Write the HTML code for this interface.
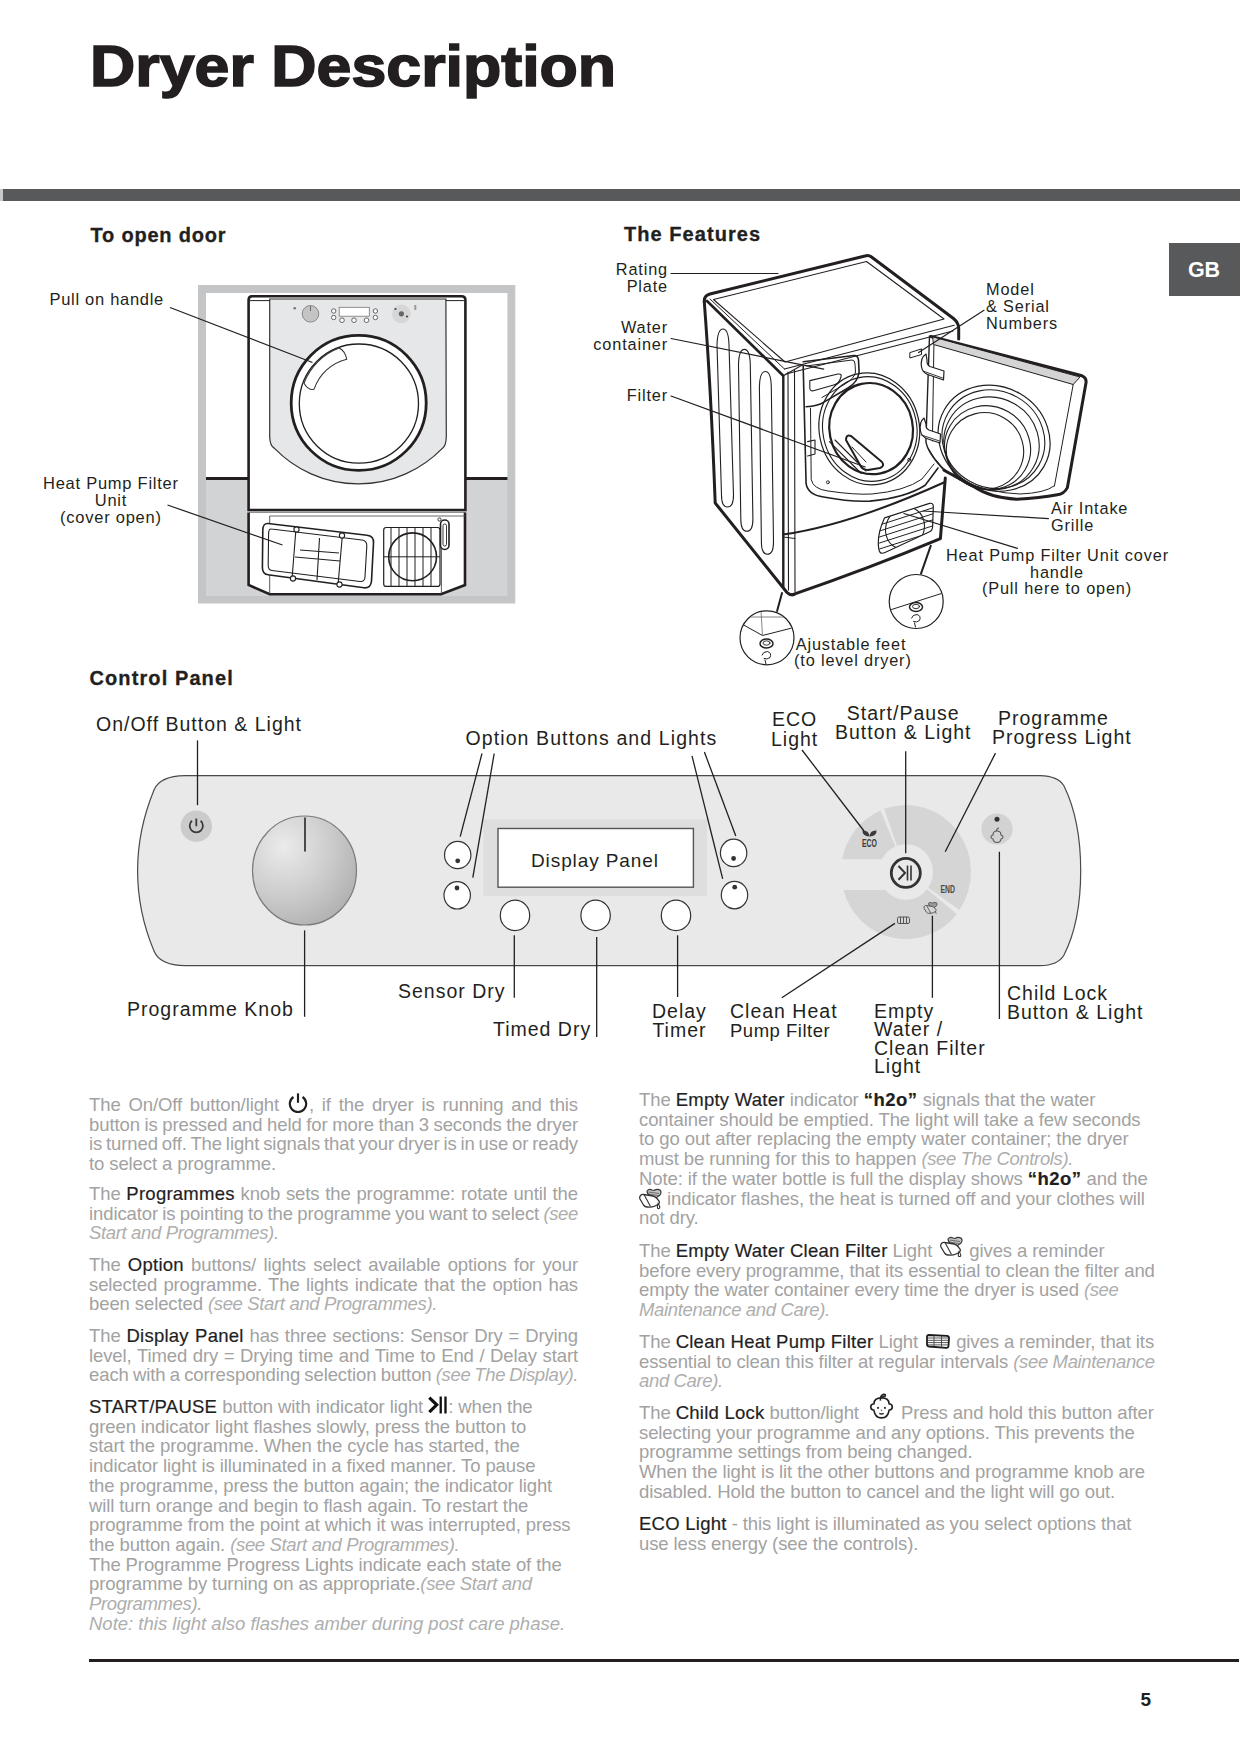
<!DOCTYPE html>
<html><head><meta charset="utf-8">
<style>
html,body{margin:0;padding:0;background:#fff;}
body{width:1240px;height:1754px;position:relative;overflow:hidden;font-family:"Liberation Sans",sans-serif;color:#222;}
.a{position:absolute;white-space:nowrap;}
#title{left:90.3px;top:30px;font-size:57px;font-weight:700;line-height:72px;color:#231f20;letter-spacing:0px;-webkit-text-stroke:1.6px #231f20;transform:scaleX(1.1);transform-origin:0 0;}
#bar{left:3px;top:189px;width:1237px;height:12px;background:#58595b;}
#bar0{left:0;top:189px;width:3px;height:12px;background:#c8c8c8;}
#gb{left:1169px;top:243px;width:71px;height:53px;background:#58595b;color:#fff;font-weight:700;font-size:21.5px;line-height:55px;text-indent:19px;letter-spacing:-0.3px;}
.h{font-weight:700;font-size:20px;line-height:24px;letter-spacing:0.8px;color:#231f20;}
.lb{font-size:16.3px;line-height:16.5px;letter-spacing:0.85px;color:#231f20;}
.cl{font-size:19.5px;line-height:19px;letter-spacing:1.0px;color:#231f20;}
.p{position:absolute;font-size:18.5px;line-height:19.7px;color:#a2a2a2;letter-spacing:-0.1px;}
.p div{white-space:nowrap;}
.p b{font-weight:400;color:#1f1f1f;-webkit-text-stroke:0.2px #1f1f1f;letter-spacing:0.25px;}
.p i{color:#aeaeae;letter-spacing:-0.35px;}
.ic{display:inline-block;position:relative;height:0;}
.ic svg{position:absolute;left:0;}
.j{text-align:justify;text-align-last:justify;word-spacing:-1.6px;}
#rule{left:89px;top:1659px;width:1150px;height:3px;background:#231f20;}
#pn{left:1140.5px;top:1688px;font-size:19px;font-weight:700;line-height:24px;color:#231f20;}
</style></head>
<body>
<div id="title" class="a">Dryer Description</div>
<div id="bar0" class="a"></div>
<div id="bar" class="a"></div>
<div id="gb" class="a">GB</div>

<div class="a h" style="left:90.5px;top:222.5px;-webkit-text-stroke:0.3px #231f20;">To open door</div>
<div class="a h" style="left:624px;top:221.5px;letter-spacing:1.05px;-webkit-text-stroke:0.3px #231f20;">The Features</div>
<div class="a h" style="left:89.5px;top:666px;letter-spacing:1.1px;-webkit-text-stroke:0.3px #231f20;">Control Panel</div>


<svg class="a" style="left:0;top:0" width="1240" height="1754" viewBox="0 0 1240 1754">
<defs>
<radialGradient id="knobg" cx="0.3" cy="0.28" r="0.85">
<stop offset="0" stop-color="#ebebeb"/><stop offset="0.55" stop-color="#cbcbcb"/><stop offset="1" stop-color="#adadad"/>
</radialGradient>
</defs>

<!-- LEFT ILLUSTRATION -->
<g id="li">
<rect x="198" y="285" width="317.3" height="318.5" fill="#c4c5c7"/>
<rect x="206" y="293" width="301.4" height="184.7" fill="#fff"/>
<rect x="206" y="477.7" width="301.4" height="118.3" fill="#d2d3d5"/>
<line x1="206" y1="478.5" x2="507.4" y2="478.5" stroke="#231f20" stroke-width="2.8"/>
<!-- dryer body -->
<path d="M252,296.2 L461.5,296.2 Q465.4,296.2 465.4,300 L465.4,510 L248.6,510 L248.6,300 Q248.6,296.2 252,296.2 Z" fill="#fff" stroke="#231f20" stroke-width="2.6"/>
<!-- front panel -->
<path d="M269.7,299 L445.9,299 L446.3,437 Q446,446 442.3,448.4 A116.9,116.9 0 0 1 274.5,448.4 Q270,446 269.7,437 Z" fill="#e6e7e9" stroke="#333" stroke-width="1.2"/>
<line x1="250" y1="300.6" x2="269.7" y2="300.6" stroke="#222" stroke-width="1"/>
<line x1="446" y1="300.6" x2="464" y2="300.6" stroke="#222" stroke-width="1"/>
<!-- controls -->
<circle cx="294.7" cy="308.2" r="1.3" fill="#777"/>
<circle cx="310.5" cy="313.8" r="8.3" fill="#c4c4c4" stroke="#777" stroke-width="0.8"/>
<line x1="310.5" y1="306" x2="310.5" y2="311" stroke="#555" stroke-width="0.8"/>
<rect x="339.2" y="307.3" width="30.1" height="8.9" fill="#fff" stroke="#777" stroke-width="0.8"/>
<g fill="#fff" stroke="#444" stroke-width="0.8">
<circle cx="333.7" cy="311" r="2.2"/><circle cx="333.7" cy="317.5" r="2.2"/>
<circle cx="375.4" cy="311" r="2.2"/><circle cx="375.4" cy="317.5" r="2.2"/>
<circle cx="342" cy="320.2" r="2.3"/><circle cx="354" cy="320.2" r="2.3"/><circle cx="366.5" cy="320.2" r="2.3"/>
</g>
<circle cx="401.4" cy="313.8" r="9.3" fill="#d6d6d6"/>
<circle cx="401.4" cy="313.8" r="2.6" fill="#666"/>
<circle cx="395.5" cy="309" r="1.1" fill="#444"/><circle cx="407" cy="316.5" r="1.1" fill="#444"/>
<rect x="414.3" y="305" width="2" height="5" fill="#999"/>
<!-- door -->
<circle cx="358.7" cy="402.9" r="67.5" fill="#fff" stroke="#231f20" stroke-width="2.8"/>
<circle cx="358.9" cy="403.6" r="59.6" fill="#fff" stroke="#231f20" stroke-width="1.3"/>
<path d="M339.2,348.1 Q345,351 346.7,359.2 A46,46 0 0 0 314.2,388.9 Q309,391.5 304,383.3 A59.6,59.6 0 0 1 339.2,348.1 Z" fill="#fff" stroke="#333" stroke-width="1.1"/>
<!-- plinth -->
<line x1="249" y1="512.5" x2="465" y2="512.5" stroke="#231f20" stroke-width="1"/>
<path d="M248.6,512.5 L248.6,585 L269.7,594.3 L441,594.3 L465,585 L465,512.5" fill="#fff" stroke="#231f20" stroke-width="2.6"/>
<line x1="269.7" y1="516" x2="269.7" y2="594" stroke="#444" stroke-width="0.9"/>
<line x1="441.4" y1="540" x2="441.4" y2="594" stroke="#444" stroke-width="0.9"/>
<line x1="269.7" y1="516" x2="465" y2="516" stroke="#444" stroke-width="0.8"/>
<!-- filter unit -->
<path d="M268,523.5 L367,535.3 Q374,536 373.5,543 L371.5,581 Q371,588.3 364,587.8 L268,574.7 Q262.2,574 262.4,567 L262.8,530 Q263,523 268,523.5 Z" fill="#fff" stroke="#231f20" stroke-width="1.6"/>
<path d="M271.5,529 L362,540 Q367,540.8 366.8,546 L365,577 Q364.7,582 360,581.5 L272,570.5 Q268,570 268.2,565 L268.6,533 Q268.8,528.5 271.5,529 Z" fill="#fff" stroke="#231f20" stroke-width="1.1"/>
<path d="M296.2,526 L292,579 M342.5,534 L338,585 M319.5,538 L317,580 M295,557 L340,561 M300,550 L339,553" fill="none" stroke="#231f20" stroke-width="1.1"/>
<g fill="#fff" stroke="#231f20" stroke-width="1.1">
<circle cx="296.5" cy="529.5" r="2.6"/><circle cx="342" cy="535.5" r="2.6"/>
<circle cx="293" cy="578.5" r="2.6"/><circle cx="339.5" cy="584.5" r="2.6"/>
</g>
<!-- grille -->
<rect x="383.7" y="527.5" width="56.3" height="58.9" rx="2.5" fill="#fff" stroke="#231f20" stroke-width="1.2"/>
<g stroke="#231f20" stroke-width="1">
<line x1="391" y1="528" x2="391" y2="586"/><line x1="399" y1="528" x2="399" y2="586"/><line x1="407" y1="528" x2="407" y2="586"/>
<line x1="415" y1="528" x2="415" y2="586"/><line x1="423" y1="528" x2="423" y2="586"/><line x1="431" y1="528" x2="431" y2="586"/>
<line x1="384" y1="556.8" x2="440" y2="556.8"/>
</g>
<circle cx="412.6" cy="556.8" r="23.9" fill="none" stroke="#231f20" stroke-width="1.6"/>
<rect x="440.5" y="520" width="8.5" height="29.5" rx="4.2" fill="#fff" stroke="#231f20" stroke-width="1.6"/>
<rect x="443" y="524" width="3.5" height="22" rx="1.7" fill="none" stroke="#231f20" stroke-width="0.9"/>
<circle cx="439.5" cy="519.5" r="1.6" fill="none" stroke="#231f20" stroke-width="0.9"/>
<!-- leaders -->
<line x1="170" y1="307.5" x2="312.5" y2="362.5" stroke="#231f20" stroke-width="1.2"/>
<line x1="167.5" y1="505" x2="282.5" y2="545" stroke="#231f20" stroke-width="1.2"/>
</g>

<!-- RIGHT ILLUSTRATION -->
<g id="ri" fill="none" stroke="#231f20" stroke-linejoin="round" stroke-linecap="round">
<!-- body fill -->
<path d="M704.5,296 L868.4,254.6 L957.6,322.9 L958.7,338.7 L929.5,336 L945.3,478 L940.4,538.6 Q870,568 791.6,594.2 L783.2,587 L715.2,503 Q711,390 704.3,302 Z" fill="#fff" stroke="none"/>
<!-- top outline thick -->
<path d="M704.3,302 Q703.8,295.5 710,294 L865,256 Q868.4,254.6 871.5,257 L953.5,318.5 Q958.3,322.5 958.7,328 L958.7,339" stroke-width="3"/>
<path d="M707,301 L783,375.5" stroke-width="2.6"/>
<!-- top inner lines -->
<path d="M713.5,299.5 L866.5,261.5 L944,319 L785,362 Z" stroke-width="1.1"/>
<path d="M710,299 L784.5,369" stroke-width="1"/>
<path d="M784.5,369 L954.2,325.2 M786,374 L953,331 " stroke-width="1.1"/>
<path d="M783,376 L802.3,365" stroke-width="1.1"/>
<!-- side panel left edge and bottom diagonal -->
<path d="M704.3,302 Q711,390 715.2,503 L787,592.5 Q790,595.5 794,594.5" stroke-width="3"/>
<!-- side slots -->
<path d="M717,345 Q717.5,329 723,329 Q728.5,329 729,345 L733.5,495 Q733.5,507 727.5,507 Q721.5,507 721.5,495 Z" stroke-width="1.1"/>
<path d="M738.5,365 Q738.8,349.4 744.4,349.4 Q750,349.4 750.3,365 L752.9,519 Q752.9,531.3 746.9,531.3 Q740.8,531.3 740.8,519 Z" stroke-width="1.1"/>
<path d="M759.4,387 Q759.7,371.5 765.3,371.5 Q771,371.5 771.3,387 L773.5,542 Q773.5,554.3 767.5,554.3 Q761.4,554.3 761.4,542 Z" stroke-width="1.1"/>
<!-- front left vertical edges -->
<path d="M783.3,376 L783.3,587" stroke-width="2.4"/>
<path d="M788,372 L788.5,590 M794.5,370 L795,592" stroke-width="1.1"/>
<!-- front bottom thick -->
<path d="M792,594.8 Q870,568 940.4,538.6 L945.3,478" stroke-width="3"/>
<!-- plinth lines -->
<path d="M783,534.6 Q850,525 945,482" stroke-width="2"/>
<path d="M783,537 L795,538.5" stroke-width="1"/>
<!-- porthole surround -->
<path d="M803.2,366.1 L806.1,483.7 Q808,495 823.5,497 Q850,502 870,501.1 Q905,498 925.2,485.2 L938,468" stroke-width="1.6"/>
<path d="M810.5,408.2 L811.2,479.4 Q813,489 828,491 Q855,495 872,494 Q905,491 922,479 L934,464" stroke-width="1"/>
<!-- water drawer -->
<path d="M803.2,361.8 L854,355.5 Q858,355.5 858.5,360 L859.1,372 Q858,382 848,388 L823.5,402.4 Q818,406 806.1,406.8" stroke-width="1.6"/>
<path d="M806,366 L852,360 Q855,360 855,364 L855.5,372 Q854,379 845,384 L822,397.5" stroke-width="1"/>
<path d="M809.8,380.6 L838,374 Q842,373.5 841,377 Q839,384 833.7,385 L813.4,390.8 Q809.5,391.5 809.8,387 Z" stroke-width="1.1"/>
<!-- porthole rings -->
<ellipse cx="869.3" cy="428.9" rx="50.1" ry="56.2" transform="rotate(-12 869.3 428.9)" stroke-width="1.2"/>
<ellipse cx="869.8" cy="429" rx="47" ry="52.5" transform="rotate(-12 869.8 429)" stroke-width="1.1"/>
<ellipse cx="871.1" cy="428.6" rx="41.7" ry="45.7" transform="rotate(-12 871.1 428.6)" stroke-width="2.2"/>
<!-- filter blade -->
<path d="M846,440 Q846,434 851,436 L882,462 Q885,466 880,468 L868,470 Q862,470 860,465 Z" stroke-width="2"/>
<path d="M852,447 L866,462" stroke-width="1"/>
<path d="M829.4,441.6 L861.3,473.5 M835,440 L866,471" stroke-width="1.1"/>
<path d="M807.6,441.6 L815,440 L815,454 L807.6,456" stroke-width="1.1"/>
<circle cx="827.9" cy="482.3" r="1.5" stroke-width="0.9"/>
<circle cx="909.2" cy="459.8" r="1.5" stroke-width="0.9"/>
<!-- model tag -->
<path d="M910.2,352.5 L921.5,348.9 L921.5,354.5 L910.2,357.9 Z" stroke-width="1"/>
<!-- grille R -->
<defs><clipPath id="gc"><path d="M884.5,517.9 L929.5,503.4 Q933.5,502.5 933.3,507 L932.6,527 Q932.3,531 928.5,532.3 L885,552.5 Q879.5,555 878.8,549 Q876.5,535 884.5,517.9 Z"/></clipPath></defs>
<path d="M884.5,517.9 L929.5,503.4 Q933.5,502.5 933.3,507 L932.6,527 Q932.3,531 928.5,532.3 L885,552.5 Q879.5,555 878.8,549 Q876.5,535 884.5,517.9 Z" stroke-width="1.2"/>
<g clip-path="url(#gc)">
<path d="M879.5,525 L933,507.8 M879.5,531 L933,513.8 M879.5,537 L933,519.8 M879.5,543 L933,525.8 M879.5,549 L933,531.8" stroke-width="1"/>
<ellipse cx="905" cy="528" rx="19" ry="21.5" transform="rotate(25 905 528)" stroke-width="1.1"/>
</g>
<!-- door fill -->
<path d="M929.5,335.9 L1082,375.8 Q1087.5,378 1085.6,385 L1067.4,487.6 Q1064,494 1057.3,494.8 L1016.6,499.2 Q990,498 973,486.1 Q955,478 944,470.2 Q930,456 925.9,441.1 Z" fill="#fff" stroke="none"/>
<path d="M931,336.5 L1082,375.8 Q1087.5,378 1085.6,385 L1067.4,487.6 Q1064,494 1057.3,494.8 Q1040,498 1016.6,499.2 Q990,498 973,486.1 L944,470.2" stroke-width="3"/>
<path d="M929.5,335.9 L925.9,441.1 Q927,452 944,470.2" stroke-width="1.4"/>
<path d="M933,337 L1080,377 L1073.2,384.5 L933.9,344.6 Z" fill="#d4d4d4" stroke-width="1"/>
<path d="M1073.2,384.5 L1054.4,486.1" stroke-width="1"/>
<path d="M933.9,345.3 L932.4,441" stroke-width="1"/>
<path d="M928,448 Q940,470 960,480 Q990,493 1020,494 Q1045,493 1054,486" stroke-width="1"/>
<!-- door glass rings -->
<ellipse cx="994.1" cy="438.2" rx="57.3" ry="51.5" transform="rotate(30 994.1 438.2)" stroke-width="1.2"/>
<ellipse cx="993.4" cy="439.2" rx="52.3" ry="48.3" transform="rotate(30 993.4 439.2)" stroke-width="1.1"/>
<ellipse cx="991.5" cy="443.3" rx="48.3" ry="45.7" transform="rotate(30 991.5 443.3)" stroke-width="1.1"/>
<ellipse cx="987.6" cy="447.7" rx="43.5" ry="41.4" transform="rotate(30 987.6 447.7)" stroke-width="1.1"/>
<ellipse cx="985" cy="450.9" rx="38.8" ry="38.1" transform="rotate(30 985 450.9)" stroke-width="1.1"/>
<!-- hinges -->
<path d="M926,354 Q920,358 921.5,367 Q922.5,373 929,375 L943.5,380 L944,371 L930,366.5 Q926.5,365 927,360 Z" fill="#fff" stroke-width="1.2"/>
<path d="M923,371 L942.5,378" stroke-width="0.9"/>
<path d="M924,418 Q919,422 920.5,431 Q921.5,437 928,439 L940,443 L940.5,434 L929,430 Q925.5,428.5 926,424 Z" fill="#fff" stroke-width="1.2"/>
<path d="M921.5,435 L939.5,441" stroke-width="0.9"/>
<!-- feet circles -->
<defs><clipPath id="cf1"><circle cx="767" cy="637.8" r="26.4"/></clipPath><clipPath id="cf2"><circle cx="916.2" cy="601.5" r="26.4"/></clipPath></defs>
<circle cx="767" cy="637.8" r="27" fill="#fff" stroke-width="1.2"/>
<circle cx="916.2" cy="601.5" r="27" fill="#fff" stroke-width="1.2"/>
<g clip-path="url(#cf1)">
<path d="M740,623 L762.5,635.5 L792,628" stroke-width="1"/>
<path d="M761,611 L762.5,635.5 M751,617 L784,617" stroke-width="0.8" stroke="#666"/>
<ellipse cx="766.5" cy="643.5" rx="6.5" ry="4.5" stroke-width="1.5"/>
<ellipse cx="766.5" cy="643" rx="3.5" ry="2.2" stroke-width="0.9"/>
<path d="M762,655 Q763,651.5 767.5,651.5 Q772,653 770,657.5 Q767,660 764,658.5 M765,660 L766,664" stroke-width="1"/>
</g>
<g clip-path="url(#cf2)">
<path d="M890,610 L943,593" stroke-width="1"/>
<ellipse cx="916" cy="607" rx="6.5" ry="4.5" stroke-width="1.5"/>
<ellipse cx="916" cy="606.5" rx="3.5" ry="2.2" stroke-width="0.9"/>
<path d="M911.5,618 Q912.5,614.5 917,614.5 Q921.5,616 919.5,620.5 Q916.5,623 913.5,621.5 M914.5,623 L915.5,627" stroke-width="1"/>
</g>
<!-- leaders -->
<g stroke-width="1.2">
<line x1="671" y1="273.5" x2="778" y2="273.5"/>
<line x1="671" y1="338.5" x2="823.7" y2="369.2"/>
<line x1="671" y1="396" x2="865.2" y2="467"/>
<line x1="984" y1="310.3" x2="918.6" y2="352.5"/>
<line x1="1048.4" y1="518.7" x2="923.2" y2="511"/>
<line x1="1017.4" y1="548.4" x2="903.9" y2="513.5"/>
<line x1="782" y1="593" x2="777.1" y2="611.1" stroke-width="2"/>
<line x1="930.7" y1="545.8" x2="921" y2="573.6" stroke-width="2"/>
</g>
</g>

<!-- CONTROL PANEL -->
<g id="cp">
<path d="M185,775.7 L1040,775.7 Q1058,776 1064,786 Q1080.7,820 1080.7,871 Q1080.7,922 1064,955 Q1058,965.5 1040,965.7 L185,965.7 Q160,965.5 154,951 Q137.6,912 137.6,870.5 Q137.6,830 154,790 Q160,776 185,775.7 Z" fill="#e9e9e9" stroke="#4a4a4a" stroke-width="1.2"/>
<circle cx="196.3" cy="826.2" r="15.7" fill="#cbcbcb"/>
<path d="M192,820.8 A6.6,6.6 0 1 0 200.6,820.8" fill="none" stroke="#3a3a3a" stroke-width="1.8"/>
<line x1="196.3" y1="818.5" x2="196.3" y2="826.3" stroke="#3a3a3a" stroke-width="1.8"/>
<ellipse cx="304.5" cy="870.5" rx="52" ry="54.5" fill="url(#knobg)" stroke="#7a7a7a" stroke-width="1.2"/>
<line x1="305" y1="817.5" x2="305" y2="851.5" stroke="#4a4a4a" stroke-width="2"/>
<rect x="483.4" y="819.5" width="223.5" height="76.7" fill="#dedede"/>
<rect x="498" y="828.5" width="195.4" height="58.7" fill="#fff" stroke="#555" stroke-width="1.4"/>
<g fill="#fff" stroke="#333" stroke-width="1.2">
<ellipse cx="457.7" cy="855" rx="13.2" ry="13.7"/>
<ellipse cx="457.2" cy="895.3" rx="13.2" ry="13.7"/>
<ellipse cx="733.6" cy="852.9" rx="13.2" ry="13.7"/>
<ellipse cx="734.5" cy="895.1" rx="13.2" ry="13.7"/>
<ellipse cx="515" cy="915.4" rx="14.7" ry="15.2"/>
<ellipse cx="595.6" cy="915.4" rx="14.7" ry="15.2"/>
<ellipse cx="676" cy="915.4" rx="14.7" ry="15.2"/>
</g>
<g fill="#333">
<circle cx="457.7" cy="860.8" r="2.4"/><circle cx="457" cy="888" r="2.4"/>
<circle cx="733.6" cy="858.5" r="2.4"/><circle cx="734.7" cy="887.2" r="2.4"/>
</g>
<!-- progress ring -->
<g fill="#d5d5d5" transform="translate(0,872) scale(1,1.032) translate(0,-872)">
<path d="M842.2,859.7 A65,65 0 0 1 880.4,812.3 L895.4,847.2 A27,27 0 0 0 882.0,859.7 Z"/>
<path d="M884.1,810.8 A65,65 0 0 1 959.5,908.9 L928.2,887.3 A27,27 0 0 0 896.9,846.6 Z"/>
<path d="M956.8,912.6 A65,65 0 0 1 843.4,889.5 L885.4,889.5 A27,27 0 0 0 927.1,888.8 Z"/>
</g>
<circle cx="905.8" cy="872.9" r="14.5" fill="none" stroke="#333" stroke-width="2.8"/>
<path d="M898.5,866 L905,872.9 L898.5,879.8" fill="none" stroke="#333" stroke-width="2"/>
<line x1="907.5" y1="865.5" x2="907.5" y2="880.5" stroke="#333" stroke-width="1.6"/>
<line x1="911" y1="865.5" x2="911" y2="880.5" stroke="#333" stroke-width="1.6"/>
<text x="862" y="847" font-family="Liberation Sans" font-weight="700" font-size="11" fill="#3a3a3a" textLength="15" lengthAdjust="spacingAndGlyphs">ECO</text>
<path d="M869.5,836.5 Q862,836 862.5,830.5 Q869,830 869.5,836.5 Z M869.5,836.5 Q877,836 876.5,830.5 Q870,830 869.5,836.5 Z" fill="#3a3a3a"/>
<text x="940.5" y="893.2" font-family="Liberation Sans" font-weight="700" font-size="10" fill="#4a4a4a" textLength="14.5" lengthAdjust="spacingAndGlyphs">END</text>
<g fill="none" stroke="#555" stroke-width="1">
<rect x="897.5" y="917" width="12" height="6.5" rx="1.5"/>
<path d="M900.5,917 v6.5 M903.5,917 v6.5 M906.5,917 v6.5"/>
<g transform="translate(923.5,901.5) scale(0.62)"><path d="M8,3 Q10,0.5 13,2 L15,2.5 Q18,0.5 21,2 Q23,4 21,7 L17,10 L11,8 Q8,6 8,3 Z" fill="#999" stroke="#555" stroke-width="1.5"/><path d="M1,11 Q0,9 2,7 Q3,6 5,6.5 L14,8 Q16,8.5 18,10.5 L20,13 Q21,15 19,16.5 L16,18 Q13,19.5 8,19 Q6,19 4.5,17 Z" fill="#d5d5d5" stroke="#555" stroke-width="1.6"/><path d="M5,6.5 L11.5,18.5 M19,15.5 L20.5,20" stroke="#555" stroke-width="1.4"/></g>
</g>
<circle cx="997" cy="829" r="15.6" fill="#d2d2d2"/>
<circle cx="997" cy="819.2" r="2.5" fill="#333"/>
<g fill="none" stroke="#555" stroke-width="1">
<path d="M993,835 Q993,831 997,831 Q1001,831 1001,835 Q1003,835.5 1003,837 Q1003,838.5 1001,839 Q1000.5,842.5 997,842.5 Q993.5,842.5 993,839 Q991,838.5 991,837 Q991,835.5 993,835 Z" stroke-width="1.1"/>
<path d="M996.5,831 Q996.5,828.5 999,828" stroke-width="1.1"/>
</g>
<!-- leaders -->
<g stroke="#231f20" stroke-width="1.3" fill="none">
<line x1="197.5" y1="740.4" x2="197.5" y2="805.2"/>
<line x1="304.6" y1="930.4" x2="304.6" y2="1016.8"/>
<line x1="482" y1="753.5" x2="460.2" y2="836.7"/>
<line x1="494.2" y1="753.5" x2="472.8" y2="877.6"/>
<line x1="692" y1="755.8" x2="722.7" y2="878.9"/>
<line x1="704.4" y1="752" x2="735.8" y2="836"/>
<line x1="514.3" y1="935.3" x2="514.3" y2="997.8"/>
<line x1="596.7" y1="937" x2="596.7" y2="1037"/>
<line x1="677.6" y1="935.3" x2="677.6" y2="997"/>
<line x1="802" y1="750" x2="864" y2="831"/>
<line x1="905.7" y1="751.2" x2="905.7" y2="853.2"/>
<line x1="995.5" y1="753.1" x2="945.2" y2="851.8"/>
<line x1="894.9" y1="923.4" x2="781.8" y2="997.8"/>
<line x1="932.4" y1="915.7" x2="932.4" y2="997.8"/>
<line x1="999.4" y1="851.8" x2="999.4" y2="1019"/>
</g>
</g>
</svg>

<div class="a cl" style="left:96px;top:715px;">On/Off Button &amp; Light</div>
<div class="a cl" style="left:465.5px;top:729px;letter-spacing:1.1px;">Option Buttons and Lights</div>
<div class="a cl" style="left:771px;top:710px;text-align:center;line-height:19.5px;">ECO<br>Light</div>
<div class="a cl" style="left:835px;top:704px;text-align:center;line-height:18.5px;">Start/Pause<br>Button &amp; Light</div>
<div class="a cl" style="left:992px;top:709px;line-height:18.5px;"><span style="margin-left:6px">Programme</span><br>Progress Light</div>
<div class="a cl" style="left:531px;top:851px;letter-spacing:0.9px;font-size:19px;">Display Panel</div>
<div class="a cl" style="left:127px;top:1000px;">Programme Knob</div>
<div class="a cl" style="left:398px;top:982px;">Sensor Dry</div>
<div class="a cl" style="left:493px;top:1020px;">Timed Dry</div>
<div class="a cl" style="left:652px;top:1002px;text-align:center;line-height:18.5px;">Delay<br>Timer</div>
<div class="a cl" style="left:730px;top:1002px;line-height:19px;">Clean Heat<br><span style="font-size:18.5px;letter-spacing:0.5px">Pump Filter</span></div>
<div class="a cl" style="left:874px;top:1002px;line-height:18.4px;">Empty<br>Water /<br>Clean Filter<br>Light</div>
<div class="a cl" style="left:1007px;top:984px;line-height:19.3px;">Child Lock<br>Button &amp; Light</div>


<div class="a lb" style="left:49.5px;top:291px;font-size:16.5px;letter-spacing:0.7px;">Pull on handle</div>
<div class="a lb" style="left:43px;top:475px;font-size:16.5px;letter-spacing:0.75px;text-align:center;line-height:17px;">Heat Pump Filter<br>Unit<br>(cover open)</div>


<div class="a lb" style="left:600px;top:261px;width:68px;text-align:right;">Rating<br>Plate</div>
<div class="a lb" style="left:580px;top:319px;width:88px;text-align:right;">Water<br>container</div>
<div class="a lb" style="left:600px;top:387px;width:68px;text-align:right;">Filter</div>
<div class="a lb" style="left:986px;top:281px;line-height:17px;">Model<br>&amp; Serial<br>Numbers</div>
<div class="a lb" style="left:1051px;top:500px;line-height:16.5px;">Air Intake<br>Grille</div>
<div class="a lb" style="left:946px;top:547px;width:222px;text-align:center;">Heat Pump Filter Unit cover<br>handle<br>(Pull here to open)</div>
<div class="a lb" style="left:794px;top:636px;width:114px;text-align:center;line-height:16px;">Ajustable feet<br>(to level dryer)</div>

<!-- LEFT COLUMN TEXT -->
<div class="p" style="left:89px;top:1095px;width:489px;">
<div class="j">The On/Off button/light <span class="ic" style="width:22px;margin:0 0 0 0"><svg width="22" height="21" viewBox="-0.5 -0.5 21 20.5" style="bottom:-1.5px"><path d="M5.6,4.4 A8,8 0 1 0 14.4,4.4" fill="none" stroke="#231f20" stroke-width="2.1"/><line x1="10" y1="0.8" x2="10" y2="10" stroke="#231f20" stroke-width="2.1"/></svg></span>, if the dryer is running and this</div>
<div class="j">button is pressed and held for more than 3 seconds the dryer</div>
<div class="j">is turned off. The light signals that your dryer is in use or ready</div>
<div>to select a programme.</div>
</div>
<div class="p" style="left:89px;top:1184px;width:489px;">
<div class="j">The <b>Programmes</b> knob sets the programme: rotate until the</div>
<div class="j">indicator is pointing to the programme you want to select <i>(see</i></div>
<div><i>Start and Programmes).</i></div>
</div>
<div class="p" style="left:89px;top:1255px;width:489px;">
<div class="j">The <b>Option</b> buttons/ lights select available options for your</div>
<div class="j">selected programme. The lights indicate that the option has</div>
<div>been selected <i>(see Start and Programmes).</i></div>
</div>
<div class="p" style="left:89px;top:1326px;width:489px;">
<div class="j">The <b>Display Panel</b> has three sections: Sensor Dry = Drying</div>
<div class="j">level, Timed dry = Drying time and Time to End / Delay start</div>
<div class="j">each with a corresponding selection button <i>(see The Display).</i></div>
</div>
<div class="p" style="left:89px;top:1397px;width:489px;">
<div><b>START/PAUSE</b> button with indicator light <span class="ic" style="width:21px;margin-left:-1px"><svg width="23" height="18" viewBox="0 0 21 17" style="bottom:-0.5px"><path d="M1.8,1.5 L8.8,8.3 L1.8,15.2" fill="none" stroke="#111" stroke-width="3"/><rect x="11.5" y="0.5" width="2.2" height="16" fill="#111"/><rect x="16" y="0.5" width="2.2" height="16" fill="#111"/></svg></span>: when the</div>
<div>green indicator light flashes slowly, press the button to</div>
<div>start the programme. When the cycle has started, the</div>
<div>indicator light is illuminated in a fixed manner. To pause</div>
<div>the programme, press the button again; the indicator light</div>
<div>will turn orange and begin to flash again. To restart the</div>
<div>programme from the point at which it was interrupted, press</div>
<div>the button again. <i>(see Start and Programmes).</i></div>
<div>The Programme Progress Lights indicate each state of the</div>
<div>programme by turning on as appropriate.<i>(see Start and</i></div>
<div><i>Programmes).</i></div>
<div><i style="letter-spacing:0px">Note: this light also flashes amber during post care phase.</i></div>
</div>

<!-- RIGHT COLUMN TEXT -->
<div class="p" style="left:639px;top:1090px;width:520px;">
<div>The <b>Empty Water</b> indicator <b style="letter-spacing:0.5px;font-weight:700;-webkit-text-stroke:0.2px #1a1a1a">“h2o”</b> signals that the water</div>
<div>container should be emptied. The light will take a few seconds</div>
<div>to go out after replacing the empty water container; the dryer</div>
<div>must be running for this to happen <i>(see The Controls).</i></div>
<div>Note: if the water bottle is full the display shows <b style="letter-spacing:0.5px;font-weight:700;-webkit-text-stroke:0.2px #1a1a1a">“h2o”</b> and the</div>
<div><span class="ic" style="width:23px"><svg width="23" height="22" viewBox="0 0 23 22" style="bottom:-5px"><path d="M8,3 Q10,0.5 13,2 L15,2.5 Q18,0.5 21,2 Q23,4 21,7 L17,10 L11,8 Q8,6 8,3 Z" fill="#c4c4c4" stroke="#333" stroke-width="1.1"/><path d="M9.5,4 L20,5.5 M9.5,6 L19,7.5" stroke="#555" stroke-width="0.8"/><path d="M1,11 Q0,9 2,7 Q3,6 5,6.5 L14,8 Q16,8.5 18,10.5 L20,13 Q21,15 19,16.5 L16,18 Q13,19.5 8,19 Q6,19 4.5,17 Z" fill="#fff" stroke="#333" stroke-width="1.3"/><path d="M5,6.5 L11.5,18.5" stroke="#333" stroke-width="1.1" fill="none"/><path d="M19,15.5 Q21.5,18.5 20.5,20.2 Q19.5,21.2 18.5,20.2 Q18,18.5 19,15.5Z" fill="none" stroke="#333" stroke-width="1.1"/></svg></span> indicator flashes, the heat is turned off and your clothes will</div>
<div>not dry.</div>
</div>
<div class="p" style="left:639px;top:1241px;width:520px;">
<div>The <b>Empty Water Clean Filter</b> Light <span class="ic" style="width:24px;margin-left:3px"><svg width="23" height="21" viewBox="0 0 23 21" style="bottom:0px"><path d="M8,3 Q10,0.5 13,2 L15,2.5 Q18,0.5 21,2 Q23,4 21,7 L17,10 L11,8 Q8,6 8,3 Z" fill="#c4c4c4" stroke="#333" stroke-width="1.1"/><path d="M9.5,4 L20,5.5 M9.5,6 L19,7.5" stroke="#555" stroke-width="0.8"/><path d="M1,11 Q0,9 2,7 Q3,6 5,6.5 L14,8 Q16,8.5 18,10.5 L20,13 Q21,15 19,16.5 L16,18 Q13,19.5 8,19 Q6,19 4.5,17 Z" fill="#fff" stroke="#333" stroke-width="1.3"/><path d="M5,6.5 L11.5,18.5" stroke="#333" stroke-width="1.1" fill="none"/><path d="M19,15.5 Q21.5,18.5 20.5,20.2 Q19.5,21.2 18.5,20.2 Q18,18.5 19,15.5Z" fill="none" stroke="#333" stroke-width="1.1"/></svg></span> gives a reminder</div>
<div>before every programme, that its essential to clean the filter and</div>
<div>empty the water container every time the dryer is used <i>(see</i></div>
<div><i>Maintenance and Care).</i></div>
</div>
<div class="p" style="left:639px;top:1332px;width:520px;">
<div>The <b>Clean Heat Pump Filter</b> Light <span class="ic" style="width:25px;margin-left:3px"><svg width="24" height="15" viewBox="0 0 24 15" style="bottom:-0.5px"><path d="M3,1 L21,1.8 Q23,2 23,4 L22.5,12 Q22.3,14 20,13.8 L3,12.5 Q1,12.3 1,10 L1,3 Q1,1 3,1 Z" fill="#fff" stroke="#1a1a1a" stroke-width="1.8"/><path d="M8,1.5 v11 M15.5,2 v11.5 M2,4 h20 M2,6.3 h20 M2,8.6 h20 M2,10.9 h20" stroke="#444" stroke-width="0.9"/></svg></span> gives a reminder, that its</div>
<div>essential to clean this filter at regular intervals <i>(see Maintenance</i></div>
<div><i>and Care).</i></div>
</div>
<div class="p" style="left:639px;top:1403px;width:520px;">
<div>The <b>Child Lock</b> button/light <span class="ic" style="width:29px;margin-left:3px"><svg width="29" height="27" viewBox="0 0 26 25" style="bottom:-1px"><path d="M6,10 Q6,4.5 13,4.5 Q20,4.5 20,10 Q23,10.5 23,13 Q23,15.5 20,16 Q19,23 13,23 Q7,23 6,16 Q3,15.5 3,13 Q3,10.5 6,10 Z" fill="none" stroke="#222" stroke-width="1.5"/><path d="M12,7 Q11.5,2.5 15,1.2 Q17,1 16.5,2.5 M13.5,4.5 Q15,2.5 17,3" fill="none" stroke="#222" stroke-width="1.5"/><path d="M11,18.8 Q13,20 15,18.8" fill="none" stroke="#222" stroke-width="1.3"/><circle cx="9.8" cy="13.8" r="1" fill="#333"/><circle cx="16.2" cy="13.8" r="1" fill="#333"/><circle cx="13" cy="16" r="0.7" fill="#555"/></svg></span> Press and hold this button after</div>
<div>selecting your programme and any options. This prevents the</div>
<div>programme settings from being changed.</div>
<div>When the light is lit the other buttons and programme knob are</div>
<div>disabled. Hold the button to cancel and the light will go out.</div>
</div>
<div class="p" style="left:639px;top:1514px;width:520px;">
<div><b>ECO Light</b> - this light is illuminated as you select options that</div>
<div>use less energy (see the controls).</div>
</div>

<div id="rule" class="a"></div>
<div id="pn" class="a">5</div>

</body></html>
